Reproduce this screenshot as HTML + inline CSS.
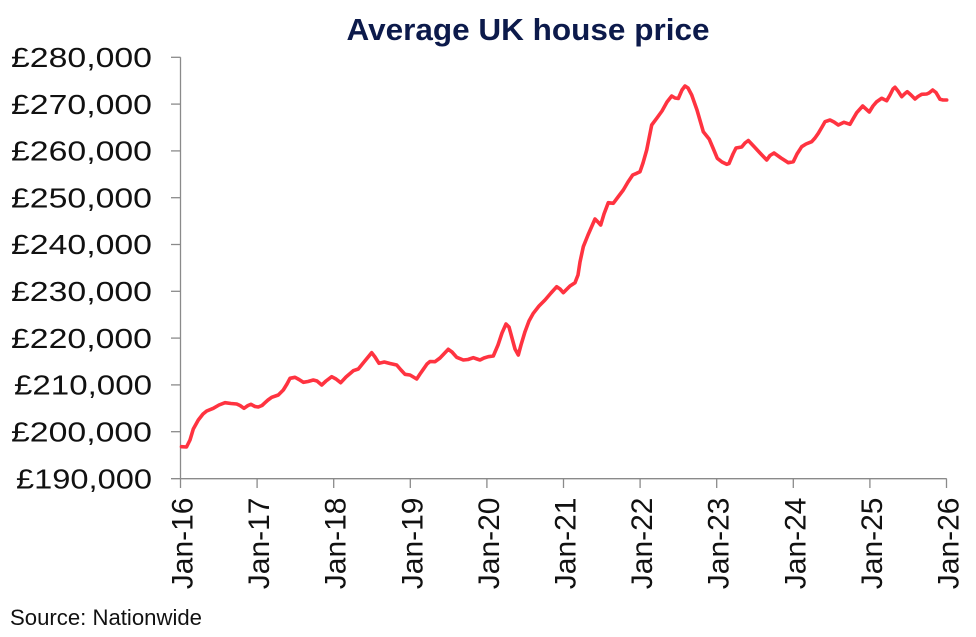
<!DOCTYPE html>
<html><head><meta charset="utf-8"><style>
html,body{margin:0;padding:0;background:#fff;}
svg{display:block;}
</style></head><body>
<svg width="976" height="637" viewBox="0 0 976 637" xmlns="http://www.w3.org/2000/svg">
<rect width="976" height="637" fill="#fff"/>
<text x="346.5" y="40" font-family="Liberation Sans, sans-serif" font-weight="bold" font-size="31" fill="#0c1a4b" textLength="363" lengthAdjust="spacingAndGlyphs">Average UK house price</text>
<g stroke="#8a8a8a" stroke-width="1.3" fill="none">
<line x1="180.5" y1="57.3" x2="180.5" y2="478.7"/>
<line x1="171" y1="478.7" x2="946.7" y2="478.7"/>
<line x1="171" y1="57.3" x2="180.5" y2="57.3"/>
<line x1="171" y1="104.1" x2="180.5" y2="104.1"/>
<line x1="171" y1="150.9" x2="180.5" y2="150.9"/>
<line x1="171" y1="197.7" x2="180.5" y2="197.7"/>
<line x1="171" y1="244.5" x2="180.5" y2="244.5"/>
<line x1="171" y1="291.3" x2="180.5" y2="291.3"/>
<line x1="171" y1="338.1" x2="180.5" y2="338.1"/>
<line x1="171" y1="384.9" x2="180.5" y2="384.9"/>
<line x1="171" y1="431.7" x2="180.5" y2="431.7"/>
<line x1="180.5" y1="478.7" x2="180.5" y2="488"/>
<line x1="257.1" y1="478.7" x2="257.1" y2="488"/>
<line x1="333.7" y1="478.7" x2="333.7" y2="488"/>
<line x1="410.3" y1="478.7" x2="410.3" y2="488"/>
<line x1="486.9" y1="478.7" x2="486.9" y2="488"/>
<line x1="563.5" y1="478.7" x2="563.5" y2="488"/>
<line x1="640.1" y1="478.7" x2="640.1" y2="488"/>
<line x1="716.7" y1="478.7" x2="716.7" y2="488"/>
<line x1="793.3" y1="478.7" x2="793.3" y2="488"/>
<line x1="869.9" y1="478.7" x2="869.9" y2="488"/>
<line x1="946.5" y1="478.7" x2="946.5" y2="488"/>
</g>
<g font-family="Liberation Sans, sans-serif" font-size="28" fill="#111" text-anchor="end">
<text x="152" y="67" textLength="141" lengthAdjust="spacingAndGlyphs">£280,000</text>
<text x="152" y="113.8" textLength="141" lengthAdjust="spacingAndGlyphs">£270,000</text>
<text x="152" y="160.6" textLength="141" lengthAdjust="spacingAndGlyphs">£260,000</text>
<text x="152" y="207.4" textLength="141" lengthAdjust="spacingAndGlyphs">£250,000</text>
<text x="152" y="254.2" textLength="141" lengthAdjust="spacingAndGlyphs">£240,000</text>
<text x="152" y="301" textLength="141" lengthAdjust="spacingAndGlyphs">£230,000</text>
<text x="152" y="347.8" textLength="141" lengthAdjust="spacingAndGlyphs">£220,000</text>
<text x="152" y="394.6" textLength="138" lengthAdjust="spacingAndGlyphs">£210,000</text>
<text x="152" y="441.4" textLength="141" lengthAdjust="spacingAndGlyphs">£200,000</text>
<text x="152" y="488.4" textLength="136" lengthAdjust="spacingAndGlyphs">£190,000</text>
</g>
<g font-family="Liberation Sans, sans-serif" font-size="30" fill="#111" text-anchor="end">
<text transform="translate(192.5,497.5) rotate(-90)">Jan-16</text>
<text transform="translate(269.1,497.5) rotate(-90)">Jan-17</text>
<text transform="translate(345.7,497.5) rotate(-90)">Jan-18</text>
<text transform="translate(422.3,497.5) rotate(-90)">Jan-19</text>
<text transform="translate(498.9,497.5) rotate(-90)">Jan-20</text>
<text transform="translate(575.5,497.5) rotate(-90)">Jan-21</text>
<text transform="translate(652.1,497.5) rotate(-90)">Jan-22</text>
<text transform="translate(728.7,497.5) rotate(-90)">Jan-23</text>
<text transform="translate(805.3,497.5) rotate(-90)">Jan-24</text>
<text transform="translate(881.9,497.5) rotate(-90)">Jan-25</text>
<text transform="translate(958.5,497.5) rotate(-90)">Jan-26</text>
</g>
<polyline fill="none" stroke="#ff3340" stroke-width="3.6" stroke-linejoin="round" stroke-linecap="round" points="
181.5,446.7 186.5,447 190,440 193.3,429 198.3,420 203,414 206.7,411 213.3,408.3 219,405 225,402.7 231,403.5 236.7,404 240,405.5 244,408.3 248,405.5 251,404.3 255,406.5 258.3,407 262,405.5 265,402.7 268,400 271.7,397.3 278.3,395 283.3,390 287,384 290,378.3 295,377.3 299,379.5 303.3,382.3 308,381.5 313.3,380 317,381 321.7,385 326,381 331.7,376.7 336,379 340.7,382.7 346,377 353.3,370.7 358.3,369 364,362 371.7,352.7 375,357 379,363.3 384.3,362 390,363.5 396.7,365 401,370 405,374.3 410,375 416.7,379 420,374 423.3,369.3 427,364 430,361.5 435,361.7
440,358 448.3,349.3 452,352 456.7,357.3 463.3,360 468,359.5 473.3,357.7 477,359 480,360 484,358 488.3,356.7 493.3,356 498,345 502,333 506,324 509,327 512,338 515,349 518.3,355 521,345 525,331.7 529,321 533.3,313.3 539,306 545,300 551,293 556.7,286.7 560,289 563.3,292.7 567,289 570,286 575,282.7 578,275 580,262 583.3,246.7 588,235 595,219 598,222 600.7,225 604,214 608.3,202.7 613.3,203.3 618,197 623.3,190 628,182 632.7,175 636.7,173.3 640,171.7 643,163 646.7,150 651.7,125 656.7,118.3 662,111 667,102 671.7,96 675,98 678.3,98.5 682,90 685,86 688,88 691.7,95 697,110 703.3,131.7 709.3,139.3 713,148 717.3,158.3 722,162 726.7,164.3 729,163.5 733,154 736,148 741.7,147 745,143 748.3,140.5 754,146.5 760,153 766.7,160 770,155.5 774,153 781,158 788.3,162.7 793.3,161.7 797,154 801.7,146.7 806,144 811.7,141.7 815,138 818.3,133.3 822,127 825,121.7 830,120 834,122 838.3,125 844,122.3 850,124.3 853,119 856.7,112.7 862.7,106 866,109 869.3,112 873,106 876.7,101.7 881.7,98.3 886.7,100.7 890,95 893,89 895,87.3 898,91 901.7,96.7 905,93.5 907.3,91.7 911,95 915,99 918,96.5 921.7,94.3 926.7,94 929,93 932.7,90 936,92.5 940,99.3 943,100 946.7,100"/>
<text x="10" y="625" font-family="Liberation Sans, sans-serif" font-size="22" fill="#111" textLength="192" lengthAdjust="spacingAndGlyphs">Source: Nationwide</text>
</svg>
</body></html>
